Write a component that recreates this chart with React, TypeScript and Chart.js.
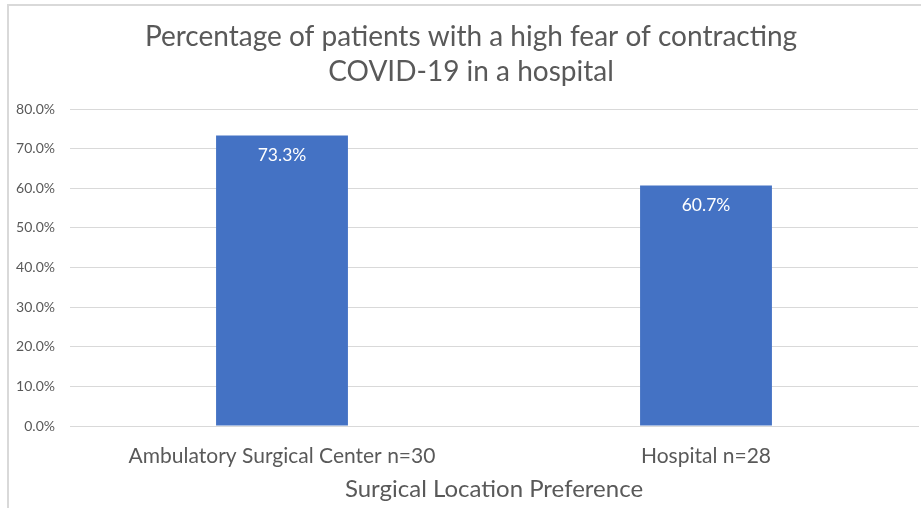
import React, { useEffect, useRef } from "react";
import { Chart, registerables } from "chart.js";

Chart.register(...registerables);

const titleLines = ["Percentage of patients with a high fear of contracting", "COVID-19 in a hospital"];
const categories = ["Ambulatory Surgical Center n=30", "Hospital n=28"];
const values = [73.3, 60.7];
const xAxisTitle = "Surgical Location Preference";
const yMin = 0;
const yMax = 80;
const yStep = 10;

const FONT = "Lato, 'Noto Sans', sans-serif";
const TEXT = "#595959";

const labelPlugin = {
  id: "barLabels",
  afterDatasetsDraw(chart: any) {
    const { ctx } = chart;
    const meta = chart.getDatasetMeta(0);
    ctx.save();
    ctx.fillStyle = "#ffffff";
    ctx.font = `17.5px ${FONT}`;
    ctx.textAlign = "center";
    ctx.textBaseline = "middle";
    meta.data.forEach((bar: any, i: number) => {
      ctx.fillText(values[i].toFixed(1) + "%", bar.x, bar.y + 20);
    });
    ctx.restore();
  },
};

const titlePlugin = {
  id: "centeredTitle",
  afterDraw(chart: any) {
    const { ctx } = chart;
    ctx.save();
    ctx.fillStyle = TEXT;
    ctx.font = `28px ${FONT}`;
    ctx.textAlign = "center";
    ctx.textBaseline = "middle";
    titleLines.forEach((line, i) => {
      ctx.fillText(line, chart.width / 2, 32 + i * 35);
    });
    ctx.restore();
  },
};

export default function App() {
  const ref = useRef<HTMLCanvasElement>(null);
  useEffect(() => {
    document.body.style.margin = "0";
    const chart = new Chart(ref.current as HTMLCanvasElement, {
      type: "bar",
      data: {
        labels: categories,
        datasets: [
          {
            data: values,
            backgroundColor: "#4472C4",
            borderWidth: 0,
            categoryPercentage: 1,
            barPercentage: 0.311,
          },
        ],
      },
      options: {
        responsive: false,
        animation: false,
        layout: { padding: { top: 104, right: 16, bottom: 0, left: 0 } },
        plugins: {
          legend: { display: false },
          tooltip: { enabled: false },
          title: { display: false },
        },
        scales: {
          x: {
            grid: { display: false, drawTicks: false },
            border: { display: true, color: "#d9d9d9", width: 1 },
            ticks: { color: TEXT, font: { family: FONT, size: 21 }, padding: 17.4 },
            title: {
              display: true,
              text: xAxisTitle,
              color: TEXT,
              font: { family: FONT, size: 24 },
              padding: { top: 0, bottom: 4.6 },
            },
            afterFit: (scale: any) => {
              scale.height = 82;
            },
          },
          y: {
            min: yMin,
            max: yMax,
            grid: { color: "#d9d9d9", drawTicks: false, lineWidth: 1 },
            border: { display: false },
            ticks: {
              stepSize: yStep,
              color: TEXT,
              font: { family: FONT, size: 14 },
              padding: 15,
              callback: (v: any) => Number(v).toFixed(1) + "%",
            },
            afterFit: (scale: any) => {
              scale.width = 62;
            },
          },
        },
      },
      plugins: [labelPlugin, titlePlugin],
    });
    return () => chart.destroy();
  }, []);

  return (
    <div style={{ position: "relative", width: 921, height: 508, overflow: "hidden", background: "#fff" }}>
      <div
        style={{
          position: "absolute",
          left: 7,
          top: 4,
          width: 940,
          height: 520,
          borderLeft: "2px solid #d9d9d9",
          borderTop: "2px solid #d9d9d9",
        }}
      />
      <canvas ref={ref} width={926} height={503} style={{ position: "absolute", left: 8, top: 5 }} />
    </div>
  );
}
